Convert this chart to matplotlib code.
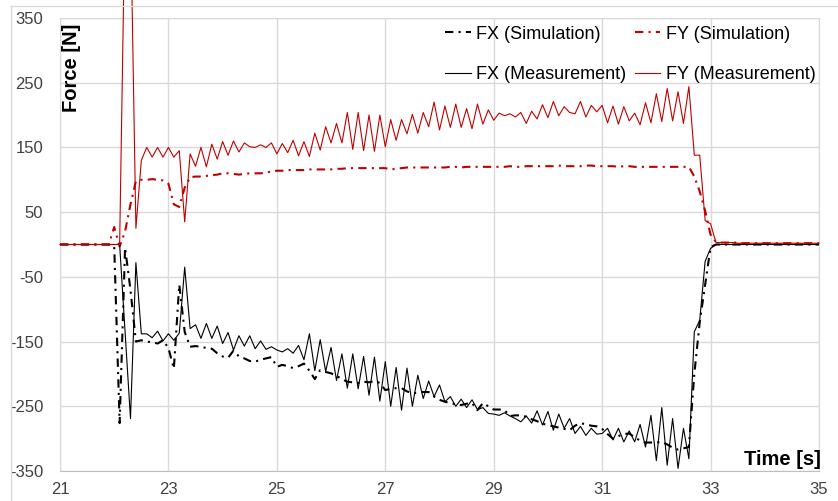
import numpy as np
import matplotlib
matplotlib.use("Agg")
import matplotlib.pyplot as plt
from matplotlib.lines import Line2D

plt.rcParams['font.family'] = ['Liberation Sans', 'DejaVu Sans']
plt.rcParams['axes.unicode_minus'] = False

# time axis, 0.1 s sampling from 21 s to 35 s
time = np.round(np.arange(210, 351) / 10.0, 1)

fy_meas = [
    0, 0, 0, 0, 0, 0, 0, 0, 0, 0,
    0, 0, 520, 520, 25, 130, 150, 135, 150, 135,
    150, 135, 145, 35, 140, 121, 150, 120, 155, 132,
    159, 138, 160, 143, 157, 151, 150, 154, 150, 157,
    140, 156, 142, 161, 137, 159, 136, 172, 146, 182,
    157, 187, 157, 204, 147, 204, 145, 200, 144, 200,
    151, 193, 161, 193, 171, 201, 172, 204, 182, 220,
    177, 214, 181, 217, 181, 210, 179, 217, 186, 208,
    192, 203, 199, 202, 197, 204, 187, 206, 194, 216,
    196, 221, 199, 213, 204, 202, 221, 197, 215, 205,
    215, 188, 214, 186, 213, 191, 203, 185, 219, 188,
    233, 190, 241, 191, 236, 187, 244, 138, 138, 37,
    32, 3, 3, 3, 3, 2, 2, 2, 2, 2,
    2, 2, 2, 2, 2, 2, 2, 2, 2, 2,
    2,
]

fy_sim = [
    0, 0, 0, 0, 0, 0, 0, 0, 0, 0,
    27, -3, 20, 62, 98, 100, 100, 101, 100, 99,
    94, 62, 58, 88, 104, 105, 105, 106, 107, 108,
    110, 110, 109, 108, 109, 110, 110, 110, 111, 113,
    114, 114, 115, 115, 115, 115, 116, 116, 116, 116,
    116, 117, 117, 118, 118, 118, 118, 118, 118, 118,
    118, 116, 117, 118, 119, 119, 119, 119, 119, 119,
    119, 119, 120, 120, 119, 120, 120, 120, 120, 120,
    120, 120, 120, 121, 120, 120, 121, 121, 121, 121,
    121, 121, 122, 121, 121, 121, 121, 122, 122, 121,
    121, 121, 121, 120, 121, 121, 120, 120, 120, 120,
    120, 120, 120, 120, 120, 120, 120, 105, 82, 52,
    15, 4, 3, 3, 3, 3, 2, 2, 2, 2,
    2, 2, 2, 2, 2, 2, 2, 2, 2, 2,
    2,
]

fx_meas = [
    0, 0, 0, 0, 0, 0, 0, 0, 0, 0,
    0, 0, -135, -269, -28, -138, -138, -144, -134, -149,
    -138, -148, -137, -35, -130, -124, -145, -122, -145, -126,
    -153, -136, -163, -141, -157, -141, -161, -149, -162, -158,
    -163, -166, -161, -168, -156, -178, -138, -195, -147, -196,
    -159, -210, -169, -222, -169, -223, -173, -233, -174, -242,
    -181, -250, -190, -256, -191, -250, -202, -238, -211, -235,
    -217, -243, -235, -250, -239, -252, -240, -255, -252, -261,
    -262, -264, -260, -265, -269, -274, -265, -276, -257, -279,
    -258, -287, -262, -284, -269, -292, -281, -295, -284, -293,
    -292, -284, -302, -284, -305, -288, -305, -278, -313, -264,
    -334, -252, -341, -269, -346, -284, -331, -135, -117, -26,
    -6, 0, 0, 0, 0, 0, 0, 0, 0, 0,
    0, 0, 0, 0, 0, 0, 0, 0, 0, 0,
    0,
]

fx_sim = [
    0, 0, 0, 0, 0, 0, 0, 0, 0, 0,
    -3, -276, -5, -70, -150, -148, -150, -151, -153, -148,
    -160, -192, -62, -135, -158, -157, -158, -160, -161, -168,
    -173, -175, -164, -173, -176, -180, -181, -178, -176, -174,
    -189, -186, -188, -191, -188, -184, -195, -208, -194, -197,
    -199, -203, -208, -212, -213, -214, -212, -213, -211, -214,
    -225, -223, -222, -222, -227, -230, -229, -228, -228, -235,
    -240, -243, -245, -247, -248, -246, -245, -256, -245, -250,
    -255, -255, -256, -265, -264, -264, -266, -270, -273, -277,
    -279, -281, -283, -285, -287, -280, -276, -278, -280, -281,
    -285, -293, -300, -296, -293, -292, -298, -303, -306, -306,
    -306, -305, -309, -314, -317, -315, -313, -200, -120, -62,
    -4, 0, 0, 0, 0, 0, 0, 0, 0, 0,
    0, 0, 0, 0, 0, 0, 0, 0, 0, 0,
    0,
]

x_ticks = [21, 23, 25, 27, 29, 31, 33, 35]
y_ticks = [-350, -250, -150, -50, 50, 150, 250, 350]

RED = "#C00000"
GRID = "#D9D9D9"
TXT = "#404040"
DASHDOT = (4, 2.5, 1, 2.5)

fig = plt.figure(figsize=(8.38, 5.01), dpi=100)
ax = fig.add_axes([60 / 838, 1 - 471 / 501, 759 / 838, 453 / 501])

ax.plot(time, fx_sim, color="black", lw=1.5, dashes=DASHDOT, label="FX (Simulation)", zorder=3)
ax.plot(time, fx_meas, color="black", lw=0.8, label="FX (Measurement)", zorder=4)
ax.plot(time, fy_sim, color=RED, lw=1.5, dashes=DASHDOT, label="FY (Simulation)", zorder=3)
ax.plot(time, fy_meas, color=RED, lw=0.8, label="FY (Measurement)", zorder=4, clip_on=False)

ax.set_xlim(21, 35)
ax.set_ylim(-350, 350)
ax.set_xticks(x_ticks)
ax.set_yticks(y_ticks)
ax.grid(True, color=GRID, lw=1)
ax.set_axisbelow(True)
ax.tick_params(length=0, labelsize=12, colors=TXT)
ax.tick_params(axis="y", pad=12)
ax.tick_params(axis="x", pad=8)
for side in ["top", "right", "left"]:
    ax.spines[side].set_color(GRID)
ax.spines["bottom"].set_color("#BFBFBF")

ax.text(0.003, 0.988, "Force [N]", rotation=90, ha="left", va="top",
        fontsize=14.5, fontweight="bold", transform=ax.transAxes)
ax.text(1.003, 0.004, "Time [s]", ha="right", va="bottom",
        fontsize=14.5, fontweight="bold", transform=ax.transAxes)

leg = ax.legend(ncol=2, loc="upper right", bbox_to_anchor=(1.017, 1.019), frameon=False,
                fontsize=13, labelspacing=1.3, columnspacing=0.5,
                handlelength=1.4, handletextpad=0.3)

# chart border
fig.add_artist(Line2D([11 / 838, 11 / 838], [0, 1 - 6 / 501], color=GRID, lw=1))
fig.add_artist(Line2D([11 / 838, 1], [1 - 6 / 501, 1 - 6 / 501], color=GRID, lw=1))

fig.savefig("out.png", dpi=100)
